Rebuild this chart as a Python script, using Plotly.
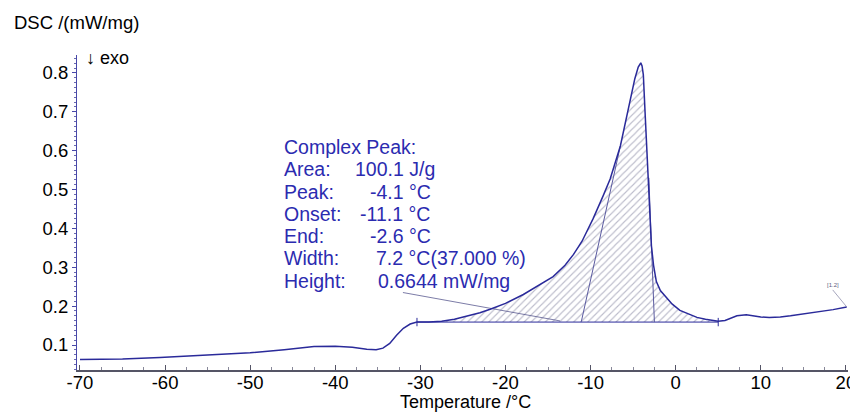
import plotly.graph_objects as go

# ---------------- data ----------------
temp = [-70, -65, -60.6, -56.7, -53, -50, -46, -42.5, -40, -38, -36.3, -35.2, -34.4,
        -33.6, -32.8, -32.0, -31.2, -30.4, -29, -27.5, -26, -24.6, -23, -21.8, -20,
        -17.9, -16, -14.4, -13, -12, -11, -9.7, -8.5, -7.7, -6.5, -5.4, -4.8, -4.4,
        -4.1, -3.95, -3.8, -3.6, -3.4, -3.2, -3.03, -2.85, -2.6, -2.27, -1.8, -1.1,
        -0.4, 0.5, 1.5, 2.5, 3.5, 4.4, 5.0, 5.8, 6.5, 7.2, 8.3, 9.2, 10, 11, 12.3,
        13.5, 15.4, 17, 18.5, 20.1]
dsc = [0.063, 0.064, 0.068, 0.072, 0.075, 0.080, 0.088, 0.096, 0.097, 0.094, 0.089,
       0.088, 0.092, 0.104, 0.125, 0.143, 0.154, 0.159, 0.159, 0.161, 0.166, 0.174,
       0.183, 0.192, 0.207, 0.230, 0.254, 0.276, 0.305, 0.333, 0.367, 0.425, 0.485,
       0.527, 0.612, 0.728, 0.785, 0.815, 0.826, 0.818, 0.795, 0.700, 0.600, 0.500,
       0.412, 0.355, 0.305, 0.263, 0.240, 0.222, 0.205, 0.189, 0.179, 0.171, 0.166,
       0.162, 0.161, 0.163, 0.169, 0.175, 0.178, 0.175, 0.172, 0.171, 0.172, 0.175,
       0.181, 0.186, 0.191, 0.198]

baseline_start = -30.4
baseline_end = 5.0
baseline_value = 0.159

onset_line_x = [-11.1, -6.5]
onset_line_y = [0.159, 0.612]
end_line_x = [-2.5, -3.15]
end_line_y = [0.159, 0.53]

pointer_x = [-32.05, -13.6]
pointer_y = [0.235, 0.162]

x_ticks = [-70, -60, -50, -40, -30, -20, -10, 0, 10, 20]
y_ticks = [0.1, 0.2, 0.3, 0.4, 0.5, 0.6, 0.7, 0.8]

result_labels = ["Area:", "Peak:", "Onset:", "End:", "Width:", "Height:"]
result_values = ["100.1 J/g", "-4.1 °C", "-11.1 °C", "-2.6 °C", "7.2 °C(37.000 %)", "0.6644 mW/mg"]
result_title = "Complex Peak:"

# ---------------- layout geometry ----------------
# the page body has an 8px default margin, so the figure is drawn 8px smaller
OFF = 8
W, H = 858 - OFF, 412 - OFF
ML, MR, MT, MB = 77 - OFF, 10, 55 - OFF, 42
PW, PH = W - ML - MR, H - MT - MB

def px(xp):
    return (xp - OFF - ML) / PW

def py(yp):
    return (H - MB - (yp - OFF)) / PH

FONT = "Arial, Liberation Sans, sans-serif"
BLUE = "#2a2a9a"
TEXT_BLUE = "#2b2bb0"

fig = go.Figure()

# hatched peak area
fx = [baseline_start] + [t for t in temp if baseline_start < t < baseline_end] + [baseline_end]
fy = [baseline_value] + [d for t, d in zip(temp, dsc) if baseline_start < t < baseline_end] + [baseline_value]
fig.add_trace(go.Scatter(
    x=fx, y=fy, mode="lines", fill="toself",
    line=dict(width=0, color="rgba(0,0,0,0)"),
    fillcolor="rgba(0,0,0,0)",
    fillpattern=dict(shape="/", fgcolor="#7a7a98", bgcolor="rgba(255,255,255,0)",
                     size=5, solidity=0.22),
    hoverinfo="skip", showlegend=False))

# baseline
fig.add_trace(go.Scatter(x=[baseline_start, baseline_end], y=[baseline_value, baseline_value],
                         mode="lines+markers", line=dict(color=BLUE, width=1),
                         marker=dict(symbol="line-ns", size=6, line=dict(width=1, color=BLUE)),
                         showlegend=False))
# tangent lines
fig.add_trace(go.Scatter(x=onset_line_x, y=onset_line_y, mode="lines",
                         line=dict(color="#5a5aa0", width=1), showlegend=False))
fig.add_trace(go.Scatter(x=end_line_x, y=end_line_y, mode="lines",
                         line=dict(color="#5a5aa0", width=1), showlegend=False))
# pointer line from text block
fig.add_trace(go.Scatter(x=pointer_x, y=pointer_y, mode="lines",
                         line=dict(color="#5a5a90", width=0.8), showlegend=False))

# main curve
fig.add_trace(go.Scatter(x=temp, y=dsc, mode="lines",
                         line=dict(color=BLUE, width=1.5), showlegend=False))

annotations = []
# axis titles
annotations.append(dict(text="DSC /(mW/mg)", x=px(12), y=py(23), xref="paper", yref="paper",
                        xanchor="left", yanchor="middle", showarrow=False,
                        font=dict(family=FONT, size=18.5, color="black")))
annotations.append(dict(text="↓ exo", x=px(84), y=py(58), xref="paper", yref="paper",
                        xanchor="left", yanchor="middle", showarrow=False,
                        font=dict(family=FONT, size=18, color="black")))
annotations.append(dict(text="Temperature /°C", x=px(465), y=py(401.5), xref="paper", yref="paper",
                        xanchor="center", yanchor="middle", showarrow=False,
                        font=dict(family=FONT, size=18, color="black")))
# results block
row_y = [169.3, 191.7, 213.8, 236, 258.3, 280.7]
val_x = [353, 367.7, 358, 367.7, 374, 376]
annotations.append(dict(text=result_title, x=px(282), y=py(147), xref="paper", yref="paper",
                        xanchor="left", yanchor="middle", showarrow=False,
                        font=dict(family=FONT, size=19.5, color=TEXT_BLUE)))
for lab, val, ry, vx in zip(result_labels, result_values, row_y, val_x):
    annotations.append(dict(text=lab, x=px(282), y=py(ry), xref="paper", yref="paper",
                            xanchor="left", yanchor="middle", showarrow=False,
                            font=dict(family=FONT, size=19.5, color=TEXT_BLUE)))
    annotations.append(dict(text=val, x=px(vx), y=py(ry), xref="paper", yref="paper",
                            xanchor="left", yanchor="middle", showarrow=False,
                            font=dict(family=FONT, size=19.5, color=TEXT_BLUE)))
# end-of-curve label
annotations.append(dict(text="[1.2]", x=temp[-1], y=dsc[-1], xref="x", yref="y",
                        ax=-14, ay=-17, showarrow=True, arrowhead=0, arrowwidth=0.7,
                        arrowcolor="#8080a0", xanchor="center", yanchor="bottom",
                        font=dict(family=FONT, size=6, color="#606080")))

fig.update_layout(
    width=W, height=H,
    margin=dict(l=ML, r=MR, t=MT, b=MB, autoexpand=False),
    paper_bgcolor="white", plot_bgcolor="white",
    annotations=annotations,
    xaxis=dict(range=[-70.35, 20.25], tickvals=x_ticks, ticktext=[str(v) for v in x_ticks],
               showgrid=False, zeroline=False, showline=True, linecolor="#555566", linewidth=1.5,
               ticks="inside", ticklen=5, tickcolor="#555566", automargin=False,
               ticklabelstandoff=-5,
               minor=dict(dtick=2.5, tick0=-70, ticks="inside", ticklen=3, tickcolor="#888899"),
               tickfont=dict(family=FONT, size=18.5, color="black")),
    yaxis=dict(range=[0.0357, 0.846], tickvals=y_ticks, ticktext=["%.1f" % v for v in y_ticks],
               showgrid=False, zeroline=False, showline=True, linecolor="#4848a8", linewidth=1,
               ticks="outside", ticklen=4, tickcolor="#4848a8", automargin=False,
               minor=dict(dtick=0.0125, tick0=0.1, ticks="outside", ticklen=2, tickcolor="#6a6ab0"),
               tickfont=dict(family=FONT, size=18.5, color="black")),
)

fig.write_html("out.html")
